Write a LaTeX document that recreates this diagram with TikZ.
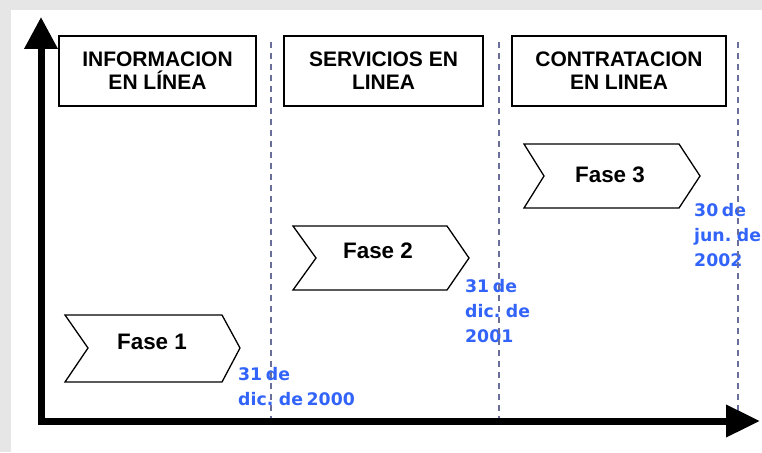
\documentclass[tikz,border=0pt]{standalone}
\usepackage{fontspec}
\setmainfont{Liberation Sans}
\newfontfamily\dejavu[WordSpace=0.6]{DejaVu Sans}
\usetikzlibrary{arrows.meta}
\definecolor{bggray}{RGB}{230,230,230}
\definecolor{datblue}{RGB}{50,100,250}
\definecolor{dashcol}{RGB}{105,110,155}
\begin{document}
\begin{tikzpicture}[x=1pt,y=-1pt,
  header/.style={draw,line width=1.5pt,fill=white,align=center,inner sep=0pt,
    font=\fontsize{21}{23}\selectfont\bfseries},
  chev/.style={draw,line width=1.3pt,fill=white,line join=miter},
  fase/.style={font=\fontsize{22.4}{24}\selectfont\bfseries,anchor=base,inner sep=0pt},
  datelbl/.style={text=datblue,align=left,anchor=base west,inner sep=0pt,
    font=\dejavu\fontsize{17.3}{25}\selectfont\bfseries},
  sep/.style={dashcol,line width=1.5pt,dash pattern=on 6pt off 5pt},
  axis/.style={line width=7pt,line join=miter,
    {Triangle[length=32pt,width=32pt]}-{Triangle[length=34pt,width=31pt]}}]
\useasboundingbox (0,0) rectangle (762,452);
\fill[bggray] (0,0) rectangle (762,452);
\fill[white] (11,10) rectangle (762,452);

% header boxes
\node[header,minimum width=197pt,minimum height=70pt] (h1) at (157.5,71) {INFORMACION\\EN LÍNEA};
\node[header,minimum width=199pt,minimum height=70pt] (h2) at (383.5,71) {SERVICIOS EN\\LINEA};
\node[header,minimum width=214pt,minimum height=70pt] (h3) at (619,71) {CONTRATACION\\EN LINEA};

% chevrons
\draw[chev] (65,315) -- (222,315) -- (240,348) -- (222,382) -- (65,382) -- (88,348) -- cycle;
\node[fase] (f1) at (152,349) {Fase 1};
\draw[chev] (293,226) -- (447,226) -- (469,258) -- (447,290) -- (293,290) -- (316,258) -- cycle;
\node[fase] (f2) at (378,258) {Fase 2};
\draw[chev] (524,144) -- (679,144) -- (700,176) -- (679,208) -- (524,208) -- (544,176) -- cycle;
\node[fase] (f3) at (610,182) {Fase 3};

% date labels (anchor = baseline of the last line)
\node[datelbl] (d1) at (238,405) {31 de\\dic. de 2000};
\node[datelbl] (d2) at (465,342) {31 de\\dic. de\\2001};
\node[datelbl] (d3) at (694,266) {30 de\\jun. de\\2002};

% dashed separators
\coordinate (s1t) at (271,42); \coordinate (s1b) at (271,420);
\coordinate (s2t) at (499,42); \coordinate (s2b) at (499,420);
\coordinate (s3t) at (738,42); \coordinate (s3b) at (738,420);
\draw[sep] (s1t) -- (s1b);
\draw[sep] (s2t) -- (s2b);
\draw[sep] (s3t) -- (s3b);

% axes
\coordinate (ytop) at (41,17);
\coordinate (orig) at (41,421);
\coordinate (xend) at (760,421);
\draw[axis] (ytop) -- (orig) -- (xend);
\end{tikzpicture}
\end{document}
